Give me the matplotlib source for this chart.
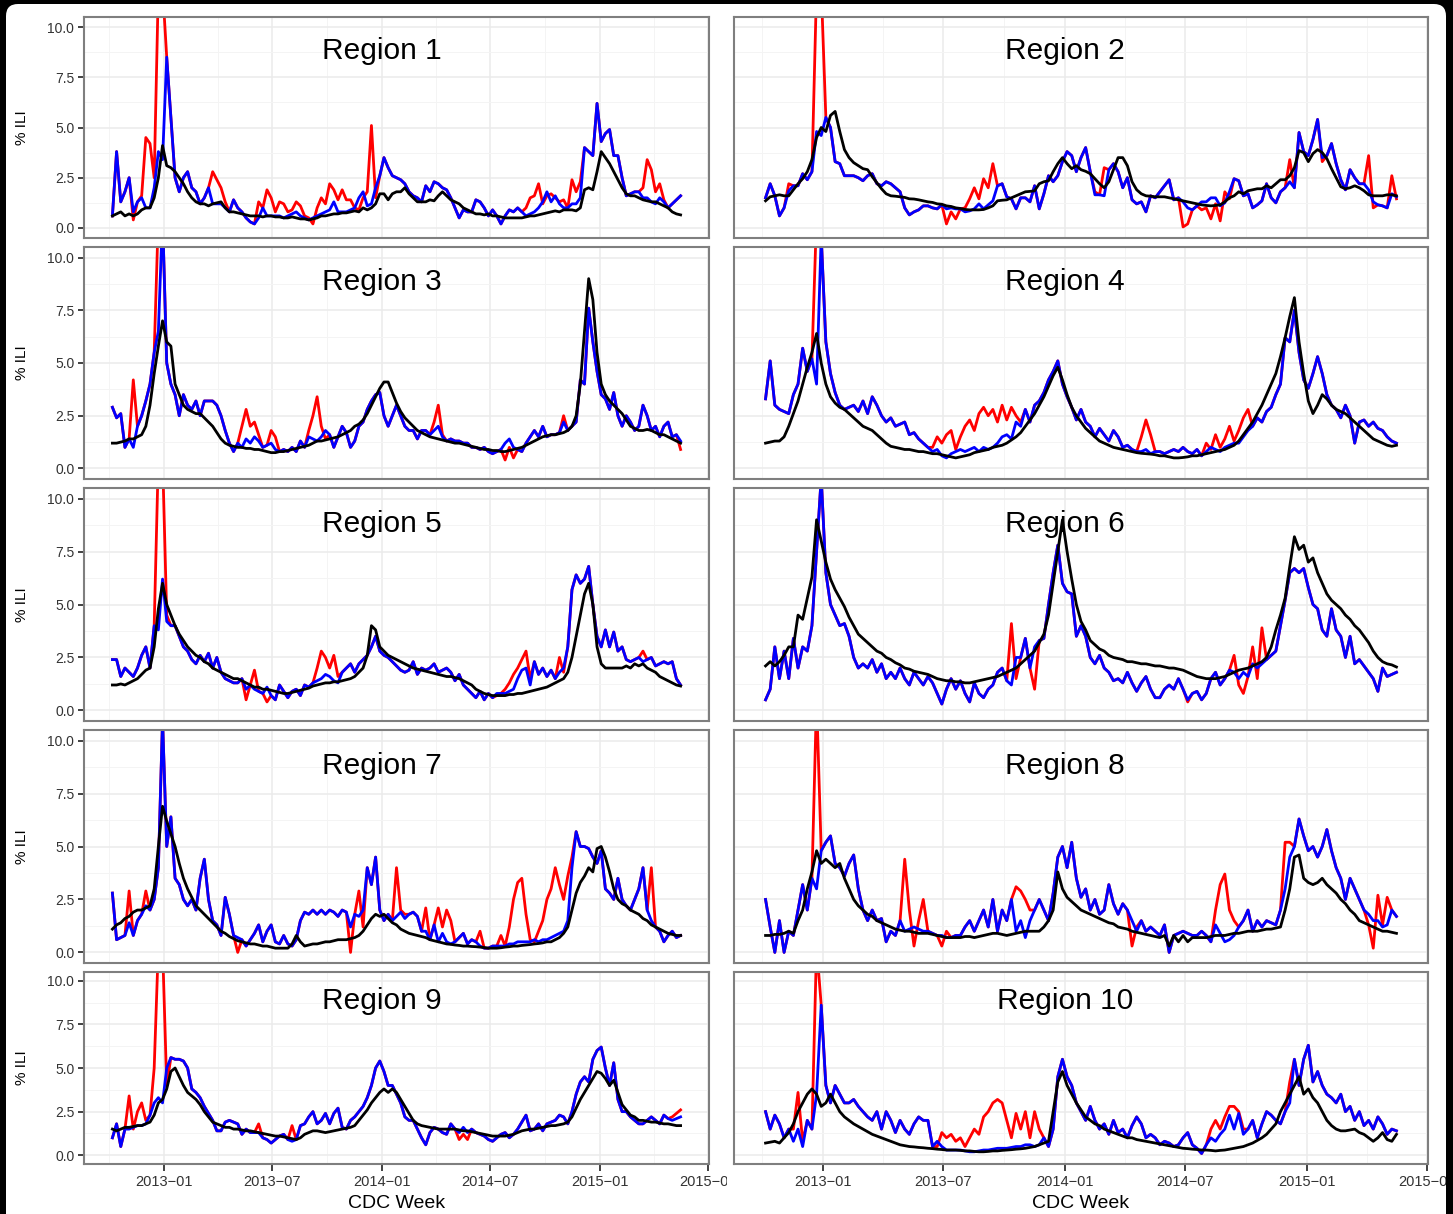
import numpy as np
import pandas as pd
import matplotlib
matplotlib.use("Agg")
import matplotlib.pyplot as plt
import matplotlib.dates as mdates
from matplotlib.patches import Rectangle, FancyBboxPatch

plt.rcParams['font.family'] = ['Liberation Sans', 'DejaVu Sans']

# CDC weeks, 2012 wk40 -> 2015 wk19
weeks = pd.date_range('2012-10-06', periods=137, freq='7D')

# red line follows blue except at these weeks (index: value)
# ---------------- Region 1
blue1 = [0.6, 3.8, 1.3, 1.8, 2.5, 0.8, 1.3, 1.5, 1.0, 1.0,
         2.0, 3.8, 3.4, 8.5, 5.5, 2.5, 1.8, 2.5, 2.8, 2.0,
         1.8, 1.2, 1.5, 2.0, 1.2, 1.2, 1.2, 1.0, 0.8, 1.4,
         1.0, 0.8, 0.5, 0.3, 0.2, 0.5, 1.0, 0.6, 0.6, 0.6,
         0.6, 0.5, 0.6, 0.7, 0.8, 0.6, 0.5, 0.4, 0.5, 0.6,
         0.7, 0.8, 0.9, 1.3, 0.8, 0.8, 0.8, 0.9, 1.0, 1.5,
         1.8, 1.1, 1.2, 2.0, 2.6, 3.5, 3.0, 2.6, 2.5, 2.4,
         2.2, 1.8, 1.6, 1.5, 1.3, 2.1, 1.8, 2.3, 2.2, 2.0,
         1.9, 1.5, 1.0, 0.5, 0.9, 0.8, 0.8, 1.4, 1.3, 1.0,
         0.6, 0.9, 0.6, 0.2, 0.6, 0.9, 0.8, 1.0, 0.8, 0.6,
         0.7, 0.8, 1.0, 1.3, 1.8, 1.3, 1.6, 1.2, 1.0, 1.0,
         1.2, 1.2, 1.5, 4.0, 3.8, 3.6, 6.2, 4.3, 4.7, 4.9,
         3.6, 3.6, 2.5, 1.6, 1.7, 1.8, 1.8, 1.5, 1.5, 1.3,
         1.2, 1.5, 1.3, 1.0, 1.2, 1.4, 1.6]
red1_diff = {5: 0.4, 7: 1.6, 8: 4.5, 9: 4.2, 10: 2.5, 11: 12, 12: 12,
             23: 2.0, 24: 2.8, 25: 2.4, 26: 2.0, 27: 1.3, 35: 1.3, 36: 1.0,
             37: 1.9, 38: 1.5, 39: 0.8, 40: 1.3, 41: 1.2, 42: 0.8, 43: 0.9,
             44: 1.3, 45: 1.1, 46: 0.6, 47: 0.5, 48: 0.2, 49: 1.0, 50: 1.5,
             51: 1.2, 52: 2.2, 53: 1.9, 54: 1.4, 55: 1.9, 56: 1.4, 57: 1.4,
             58: 1.0, 59: 0.9, 60: 1.5, 61: 1.8, 62: 5.1, 63: 1.5, 99: 1.0,
             100: 1.5, 101: 1.6, 102: 2.2, 103: 1.2, 104: 1.6, 105: 1.7,
             106: 1.5, 107: 1.3, 108: 1.4, 109: 1.0, 110: 2.4, 111: 1.8,
             112: 2.3, 127: 2.0, 128: 3.4, 129: 2.9, 130: 1.8, 131: 2.2, 132: 1.4}
black1 = [0.6, 0.7, 0.8, 0.6, 0.7, 0.6, 0.7, 0.9, 1.0, 1.0,
          1.5, 2.5, 4.1, 3.1, 3.0, 2.8, 2.5, 2.2, 1.8, 1.5,
          1.3, 1.2, 1.2, 1.1, 1.2, 1.25, 1.3, 1.0, 0.8, 0.8,
          0.75, 0.7, 0.65, 0.6, 0.6, 0.6, 0.55, 0.6, 0.6, 0.55,
          0.55, 0.5, 0.5, 0.55, 0.5, 0.45, 0.45, 0.4, 0.45, 0.5,
          0.6, 0.6, 0.65, 0.7, 0.7, 0.75, 0.75, 0.8, 0.85, 0.8,
          1.0, 0.9, 1.0, 1.2, 1.7, 1.7, 1.4, 1.7, 1.8, 1.8,
          2.0, 1.7, 1.5, 1.3, 1.3, 1.3, 1.4, 1.35, 1.6, 1.8,
          1.6, 1.4, 1.3, 1.2, 1.0, 0.9, 0.8, 0.7, 0.7, 0.65,
          0.7, 0.6, 0.6, 0.55, 0.5, 0.5, 0.5, 0.5, 0.5, 0.55,
          0.6, 0.6, 0.65, 0.7, 0.75, 0.8, 0.85, 0.8, 0.9, 0.9,
          0.9, 0.85, 1.0, 1.9, 2.0, 1.9, 2.8, 3.8, 3.5, 3.2,
          2.8, 2.4, 2.0, 1.7, 1.6, 1.6, 1.5, 1.4, 1.35, 1.3,
          1.3, 1.2, 1.1, 1.0, 0.8, 0.7, 0.65]

# ---------------- Region 2
blue2 = [1.5, 2.2, 1.6, 0.6, 1.0, 1.85, 2.1, 2.1, 2.7, 2.4,
         2.8, 4.8, 4.6, 5.5, 5.0, 3.3, 3.2, 2.6, 2.6, 2.6,
         2.5, 2.35, 2.6, 2.7, 2.2, 2.1, 2.3, 2.2, 2.0, 1.8,
         1.0, 0.65, 0.8, 0.9, 1.1, 1.1, 1.0, 0.95, 1.15, 0.95,
         1.0, 0.95, 0.95, 0.8, 0.85, 0.95, 1.2, 0.95, 1.15, 1.35,
         2.1, 2.2, 1.55, 1.45, 0.95, 1.5, 1.5, 1.3, 2.1, 0.95,
         1.7, 2.6, 2.3, 2.6, 3.3, 3.8, 3.6, 2.8, 3.5, 4.0,
         2.8, 1.65, 1.65, 1.6, 2.9, 3.2, 2.8, 2.0, 2.5, 1.4,
         1.2, 1.3, 0.8, 1.6, 1.5, 1.8, 2.1, 2.4, 1.4, 1.5,
         1.3, 1.0, 0.9, 1.1, 1.3, 1.3, 1.5, 1.5, 1.1, 1.25,
         1.8, 2.45, 2.35, 1.6, 1.7, 1.0, 1.15, 1.35, 2.2, 1.5,
         1.25, 1.8, 2.0, 2.3, 2.0, 4.75, 3.8, 3.6, 4.4, 5.4,
         3.5, 3.6, 4.2, 3.2, 2.4, 1.9, 2.9, 2.5, 2.2, 2.2,
         1.9, 1.3, 1.15, 1.1, 1.0, 1.7, 1.55]
red2_diff = {5: 2.2, 11: 12, 12: 12, 39: 0.2, 40: 0.8, 41: 0.45, 42: 0.95,
             43: 1.0, 44: 1.45, 45: 2.0, 46: 1.45, 47: 2.45, 48: 2.0, 49: 3.2,
             50: 2.1, 71: 1.8, 73: 3.0, 90: 0.05, 91: 0.2, 94: 0.9, 95: 1.0,
             96: 0.45, 97: 1.2, 98: 0.35, 99: 1.8, 100: 1.45, 113: 3.4,
             120: 3.3, 130: 3.6, 131: 1.0, 135: 2.6, 136: 1.45}
black2 = [1.35, 1.55, 1.6, 1.65, 1.6, 1.6, 1.9, 2.2, 2.45, 2.8,
          3.4, 4.5, 5.0, 4.8, 5.6, 5.8, 4.8, 3.9, 3.5, 3.25,
          3.1, 2.95, 2.9, 2.55, 2.25, 1.95, 1.7, 1.6, 1.58, 1.55,
          1.52, 1.45, 1.44, 1.4, 1.35, 1.3, 1.27, 1.2, 1.18, 1.1,
          1.07, 1.0, 0.97, 0.92, 0.9, 0.9, 0.9, 0.92, 1.0, 1.1,
          1.35, 1.38, 1.4, 1.5, 1.6, 1.7, 1.8, 1.82, 1.85, 2.2,
          2.3, 2.35, 2.8, 3.2, 3.5, 3.2, 2.95, 3.1, 2.9, 2.82,
          2.7, 2.45, 2.2, 2.0, 2.3, 2.9, 3.5, 3.5, 3.1, 2.3,
          1.9, 1.7, 1.6, 1.58, 1.55, 1.55, 1.55, 1.5, 1.45, 1.4,
          1.35, 1.3, 1.25, 1.2, 1.15, 1.12, 1.1, 1.12, 1.15, 1.3,
          1.5, 1.6, 1.8, 1.7, 1.85, 1.9, 1.95, 1.95, 2.1, 2.0,
          2.2, 2.4, 2.4, 2.6, 3.0, 3.85, 3.75, 3.3, 3.7, 3.9,
          3.75, 3.45, 2.95, 2.5, 2.05, 1.95, 2.0, 2.1, 2.0, 1.85,
          1.65, 1.6, 1.6, 1.6, 1.65, 1.65, 1.6]

# ---------------- Region 3
blue3 = [2.9, 2.4, 2.6, 1.0, 1.4, 1.0, 2.0, 2.5, 3.2, 4.0,
         5.5, 6.5, 12, 5.0, 4.0, 3.5, 2.5, 3.5, 3.0, 2.8,
         3.2, 2.5, 3.2, 3.2, 3.2, 3.0, 2.5, 1.8, 1.2, 0.8,
         1.2, 1.0, 1.4, 1.2, 1.5, 1.3, 1.0, 1.1, 1.2, 0.9,
         0.8, 0.9, 0.8, 1.0, 0.8, 1.3, 1.0, 1.5, 1.4, 1.3,
         1.5, 1.8, 1.6, 1.0, 1.5, 2.0, 1.7, 1.0, 1.3, 2.0,
         2.2, 2.8, 3.2, 3.5, 3.6, 2.5, 2.0, 2.5, 3.0, 2.5,
         2.0, 1.8, 1.8, 1.4, 1.8, 1.8, 1.6, 1.8, 2.0, 1.5,
         1.3, 1.4, 1.3, 1.3, 1.2, 1.2, 1.0, 1.0, 0.9, 1.0,
         0.8, 0.7, 0.8, 0.9, 1.2, 1.4, 1.0, 0.9, 0.8, 1.2,
         1.5, 1.8, 1.5, 2.0, 1.5, 1.6, 1.6, 1.7, 2.2, 1.8,
         2.0, 2.2, 4.2, 4.0, 7.6, 6.0, 4.6, 3.5, 3.3, 2.8,
         3.6, 2.5, 2.0, 2.5, 2.2, 1.8, 2.0, 3.0, 2.5, 1.8,
         2.0, 1.5, 2.0, 2.2, 1.5, 1.6, 1.3]
red3_diff = {5: 4.2, 11: 12, 31: 2.0, 32: 2.8, 33: 2.0, 34: 2.2, 35: 1.6,
             38: 1.8, 39: 1.5, 47: 1.8, 48: 2.5, 49: 3.4, 50: 2.0, 51: 1.4,
             77: 2.2, 78: 3.0, 79: 1.6, 94: 0.4, 95: 1.0, 96: 0.5, 108: 2.5,
             136: 0.9}
black3 = [1.2, 1.2, 1.25, 1.3, 1.4, 1.4, 1.5, 1.6, 2.0, 3.0,
          4.5, 5.8, 7.0, 6.0, 5.8, 4.0, 3.5, 3.0, 2.8, 2.7,
          2.6, 2.6, 2.4, 2.2, 2.0, 1.7, 1.4, 1.2, 1.1, 1.05,
          1.0, 1.0, 0.95, 0.95, 0.9, 0.9, 0.85, 0.8, 0.75, 0.75,
          0.8, 0.8, 0.85, 0.9, 0.95, 1.0, 1.05, 1.1, 1.2, 1.3,
          1.3, 1.35, 1.4, 1.45, 1.5, 1.6, 1.7, 1.8, 2.0, 2.1,
          2.3, 2.6, 3.0, 3.4, 3.8, 4.1, 4.1, 3.6, 3.1, 2.7,
          2.4, 2.2, 2.0, 1.8, 1.7, 1.6, 1.5, 1.45, 1.4, 1.35,
          1.3, 1.25, 1.2, 1.2, 1.15, 1.1, 1.05, 1.0, 0.95, 0.9,
          0.9, 0.85, 0.85, 0.8, 0.8, 0.85, 0.9, 0.95, 1.0, 1.1,
          1.2, 1.3, 1.4, 1.5, 1.55, 1.6, 1.6, 1.65, 1.7, 1.8,
          2.0, 2.5, 4.0, 6.5, 9.0, 8.0, 5.5, 4.0, 3.5, 3.2,
          3.0, 2.8, 2.6, 2.3, 2.0, 1.9, 1.8, 1.8, 1.85, 1.8,
          1.7, 1.6, 1.6, 1.5, 1.4, 1.3, 1.2]

# ---------------- Region 4
blue4 = [3.3, 5.1, 3.0, 2.8, 2.7, 2.6, 3.5, 4.0, 5.7, 4.6,
         5.2, 4.0, 11.0, 6.0, 4.5, 3.6, 3.0, 2.8, 2.9, 3.0,
         2.7, 3.2, 2.6, 3.4, 3.0, 2.5, 2.2, 2.4, 2.0, 2.1,
         2.2, 1.6, 1.7, 1.4, 1.2, 1.0, 0.8, 0.9, 0.6, 0.5,
         0.7, 0.8, 0.9, 0.8, 0.9, 1.0, 0.8, 1.0, 0.9, 1.0,
         1.2, 1.5, 1.6, 1.4, 2.2, 2.0, 2.8, 2.2, 3.0, 3.2,
         3.6, 4.2, 4.6, 5.1, 4.0, 3.4, 2.9, 2.3, 2.8, 2.2,
         2.0, 1.5, 1.9, 1.6, 1.3, 1.8, 1.5, 1.0, 1.1, 0.9,
         0.8, 0.8, 0.9, 0.7, 0.8, 0.8, 0.7, 0.8, 0.9, 0.8,
         1.0, 0.8, 0.7, 0.9, 0.6, 0.8, 1.0, 0.9, 0.8, 1.0,
         1.1, 1.2, 1.2, 1.5, 1.8, 2.0, 2.4, 2.2, 2.7, 2.9,
         3.5, 4.0, 6.2, 6.0, 7.5, 5.5, 4.2, 3.8, 4.5, 5.3,
         4.5, 3.5, 3.0, 2.8, 2.4, 3.0, 2.5, 1.2, 2.2, 2.3,
         2.0, 2.2, 1.9, 1.8, 1.5, 1.3, 1.2]
red4_diff = {11: 12, 36: 1.0, 37: 1.5, 38: 1.2, 39: 1.6, 40: 1.8, 41: 0.9,
             42: 1.5, 43: 2.0, 44: 2.3, 45: 1.8, 46: 2.6, 47: 2.9, 48: 2.5,
             49: 2.8, 50: 2.2, 51: 3.0, 52: 2.3, 53: 2.9, 54: 2.5, 55: 2.2,
             81: 1.5, 82: 2.3, 83: 1.6, 95: 1.2, 96: 0.9, 97: 1.6, 98: 1.0,
             99: 1.4, 100: 2.0, 101: 1.3, 102: 1.8, 103: 2.4, 104: 2.8, 105: 2.0}
black4 = [1.2, 1.25, 1.3, 1.3, 1.5, 2.0, 2.6, 3.2, 4.0, 4.8,
          5.5, 6.4, 5.0, 4.0, 3.4, 3.1, 2.9, 2.8, 2.6, 2.4,
          2.2, 2.0, 1.9, 1.8, 1.6, 1.4, 1.2, 1.05, 1.0, 0.95,
          0.9, 0.9, 0.85, 0.8, 0.8, 0.75, 0.7, 0.7, 0.65, 0.6,
          0.55, 0.5, 0.55, 0.6, 0.65, 0.75, 0.8, 0.85, 0.9, 1.0,
          1.05, 1.1, 1.2, 1.35, 1.5, 1.7, 2.0, 2.3, 2.6, 3.0,
          3.4, 3.9, 4.4, 4.8, 4.2, 3.5, 2.9, 2.5, 2.2, 1.9,
          1.7, 1.5, 1.3, 1.2, 1.1, 1.0, 0.95, 0.9, 0.85, 0.8,
          0.75, 0.72, 0.7, 0.68, 0.65, 0.6, 0.6, 0.55, 0.5, 0.5,
          0.52, 0.55, 0.6, 0.6, 0.65, 0.7, 0.75, 0.8, 0.85, 0.9,
          1.0, 1.1, 1.3, 1.6, 1.9, 2.2, 2.6, 3.0, 3.5, 4.0,
          4.5, 5.3, 6.2, 7.2, 8.1, 6.0, 4.5, 3.2, 2.6, 3.0,
          3.5, 3.3, 3.0, 2.8, 2.7, 2.6, 2.4, 2.2, 2.0, 1.8,
          1.6, 1.4, 1.3, 1.2, 1.1, 1.05, 1.1]

# ---------------- Region 5
blue5 = [2.4, 2.4, 1.6, 2.0, 1.8, 1.6, 2.0, 2.6, 3.0, 2.0,
         4.0, 3.8, 6.2, 4.2, 4.0, 4.0, 3.5, 3.0, 2.8, 2.4,
         2.2, 2.6, 2.3, 2.7, 2.0, 2.5, 1.8, 1.5, 1.4, 1.3,
         1.3, 1.5, 1.0, 1.2, 1.0, 0.9, 0.8, 1.1, 0.7, 0.5,
         1.2, 0.9, 0.6, 0.9, 1.0, 0.7, 1.2, 1.1, 1.3, 1.4,
         1.5, 1.7, 1.6, 1.4, 1.3, 1.8, 2.0, 2.2, 1.8, 2.2,
         2.4, 2.6, 3.0, 3.5, 2.8, 2.6, 2.5, 2.3, 2.1, 1.9,
         1.8, 1.9, 2.3, 1.7, 2.0, 1.9, 2.0, 2.2, 1.8, 1.9,
         2.0, 1.8, 1.4, 1.7, 1.2, 1.0, 0.8, 0.6, 0.9, 0.5,
         0.8, 0.6, 0.8, 0.8, 0.8, 0.9, 1.0, 1.5, 1.9, 2.0,
         1.2, 2.3, 1.7, 2.0, 1.6, 1.9, 1.5, 1.8, 2.0, 3.0,
         5.7, 6.4, 6.0, 6.2, 6.8, 5.0, 3.5, 3.0, 3.8, 3.0,
         3.7, 2.8, 3.0, 2.4, 2.3, 2.4, 2.5, 2.3, 2.4, 2.5,
         2.1, 2.2, 2.3, 2.2, 2.3, 1.5, 1.2]
red5_diff = {11: 12, 12: 12, 13: 4.5, 32: 0.5, 34: 1.9, 37: 0.4, 49: 2.0,
             50: 2.8, 51: 2.5, 52: 2.0, 53: 2.6, 54: 1.6, 92: 0.7, 93: 0.8,
             94: 1.0, 95: 1.3, 96: 1.7, 97: 2.0, 98: 2.4, 99: 2.8, 100: 1.5,
             107: 2.5, 108: 1.8, 127: 2.8}
black5 = [1.2, 1.2, 1.25, 1.2, 1.3, 1.4, 1.5, 1.7, 1.9, 2.0,
          3.0, 4.8, 6.0, 5.0, 4.5, 4.0, 3.6, 3.3, 3.0, 2.8,
          2.6, 2.5, 2.3, 2.2, 2.0, 1.9, 1.8, 1.7, 1.6, 1.5,
          1.5, 1.4, 1.3, 1.2, 1.1, 1.1, 1.0, 1.0, 0.95, 0.9,
          0.85, 0.8, 0.8, 0.85, 0.9, 0.95, 1.0, 1.05, 1.15, 1.2,
          1.25, 1.3, 1.3, 1.35, 1.35, 1.4, 1.45, 1.5, 1.6, 1.8,
          2.0, 2.6, 4.0, 3.8, 3.0, 2.8, 2.6, 2.5, 2.4, 2.3,
          2.2, 2.1, 2.0, 1.95, 1.9, 1.85, 1.8, 1.75, 1.7, 1.65,
          1.6, 1.6, 1.55, 1.5, 1.4, 1.3, 1.2, 1.0, 0.9, 0.8,
          0.75, 0.7, 0.7, 0.7, 0.7, 0.75, 0.75, 0.8, 0.8, 0.85,
          0.9, 0.95, 1.0, 1.05, 1.1, 1.2, 1.3, 1.4, 1.5, 1.8,
          2.5, 3.5, 4.5, 5.5, 6.0, 5.0, 3.0, 2.2, 2.0, 2.0,
          2.0, 2.0, 2.0, 2.1, 2.0, 2.2, 2.1, 2.2, 2.0, 1.9,
          1.8, 1.6, 1.5, 1.4, 1.3, 1.2, 1.15]

# ---------------- Region 6
blue6 = [0.5, 1.0, 3.0, 1.5, 2.8, 1.5, 3.4, 2.0, 3.0, 2.8,
         4.0, 7.5, 11.0, 6.5, 5.0, 4.5, 4.0, 4.1, 3.5, 2.5,
         2.0, 2.2, 2.0, 2.4, 1.8, 2.2, 1.5, 1.8, 1.5, 2.0,
         1.5, 1.2, 1.8, 1.5, 1.2, 1.6, 1.3, 0.8, 0.3, 1.0,
         1.5, 1.0, 1.4, 0.8, 0.4, 1.3, 0.8, 0.6, 1.0, 1.2,
         1.8, 2.0, 1.4, 1.2, 2.5, 2.5, 3.4, 2.0, 3.0, 3.3,
         3.4, 5.0, 6.5, 7.8, 6.0, 5.6, 5.5, 3.5, 4.0, 3.5,
         2.5, 2.2, 2.6, 2.0, 1.8, 1.4, 1.5, 1.3, 1.8, 1.3,
         0.9, 1.3, 1.6, 1.0, 0.6, 0.6, 1.0, 1.2, 1.0, 1.5,
         1.0, 0.5, 0.8, 0.9, 0.5, 0.8, 1.5, 1.8, 1.2, 1.5,
         1.9, 1.8, 1.5, 1.8, 1.6, 2.2, 2.0, 2.2, 2.4, 2.6,
         2.8, 4.0, 5.2, 6.5, 6.7, 6.5, 6.7, 5.8, 5.0, 4.8,
         3.8, 3.5, 4.8, 3.8, 3.5, 2.5, 3.5, 2.2, 2.4, 2.1,
         1.8, 1.5, 0.9, 2.0, 1.6, 1.7, 1.8]
red6_diff = {52: 1.4, 53: 4.1, 54: 1.5, 58: 1.0, 59: 3.3, 91: 0.4, 101: 2.6,
             102: 1.2, 103: 0.8, 105: 3.0, 106: 1.5, 107: 3.9, 108: 2.4}
black6 = [2.1, 2.3, 2.1, 2.3, 2.6, 3.0, 3.0, 4.5, 4.3, 5.3,
          6.3, 9.0, 8.0, 7.0, 6.2, 5.7, 5.3, 4.9, 4.4, 4.0,
          3.6, 3.4, 3.2, 3.0, 2.8, 2.7, 2.5, 2.4, 2.25, 2.15,
          2.0, 1.95, 1.85, 1.8, 1.75, 1.7, 1.6, 1.5, 1.45, 1.4,
          1.4, 1.35, 1.35, 1.3, 1.3, 1.35, 1.4, 1.45, 1.5, 1.55,
          1.6, 1.7, 1.8, 1.9, 2.0, 2.2, 2.4, 2.6, 2.8, 3.2,
          3.6, 4.5, 6.0, 7.5, 9.0, 7.5, 6.2, 5.0, 4.2, 3.8,
          3.3, 3.1, 2.9, 2.8, 2.6, 2.5, 2.45, 2.4, 2.3, 2.3,
          2.25, 2.2, 2.2, 2.15, 2.1, 2.1, 2.05, 2.0, 2.0, 1.95,
          1.9, 1.8, 1.7, 1.6, 1.55, 1.5, 1.5, 1.5, 1.55, 1.6,
          1.7, 1.8, 1.9, 1.95, 2.0, 2.1, 2.2, 2.3, 2.5, 3.0,
          3.8, 4.5, 5.3, 6.8, 8.2, 7.6, 7.8, 7.0, 7.2, 6.5,
          6.0, 5.5, 5.2, 5.0, 4.8, 4.5, 4.3, 4.0, 3.8, 3.5,
          3.2, 2.8, 2.5, 2.3, 2.2, 2.15, 2.05]

# ---------------- Region 7
blue7 = [2.8, 0.6, 0.7, 0.8, 1.4, 0.8, 1.5, 1.8, 2.2, 2.0,
         2.5, 4.0, 11.0, 5.0, 6.4, 3.5, 3.2, 2.5, 2.2, 2.5,
         2.0, 3.5, 4.4, 2.5, 1.5, 1.3, 0.8, 2.6, 1.8, 0.8,
         0.7, 0.6, 0.3, 0.6, 0.9, 1.3, 0.5, 1.0, 1.3, 0.5,
         0.4, 0.8, 0.4, 0.3, 0.6, 1.5, 1.9, 1.8, 2.0, 1.8,
         2.0, 1.8, 2.0, 1.9, 1.7, 2.0, 1.9, 1.2, 1.8, 1.7,
         2.0, 4.0, 3.2, 4.5, 2.0, 1.5, 1.8, 1.5, 1.7, 1.9,
         1.6, 1.8, 1.9, 1.7, 1.0, 1.0, 0.6, 1.3, 0.5, 0.9,
         0.5, 0.4, 0.5, 0.7, 0.9, 0.4, 0.6, 0.5, 0.3, 0.2,
         0.2, 0.3, 0.3, 0.3, 0.3, 0.4, 0.4, 0.5, 0.5, 0.5,
         0.5, 0.6, 0.5, 0.6, 0.6, 0.7, 0.8, 0.9, 1.0, 1.5,
         4.0, 5.7, 5.0, 5.0, 4.9, 4.5, 4.2, 4.8, 3.0, 2.8,
         2.5, 3.5, 2.5, 2.2, 2.0, 2.5, 3.0, 4.0, 2.0, 1.5,
         1.2, 1.0, 0.5, 0.8, 1.0, 0.7, 0.8]
red7_diff = {4: 2.9, 8: 2.9, 30: 0.0, 57: 0.0, 59: 2.9, 60: 1.2, 68: 4.0,
             69: 2.0, 70: 1.8, 75: 2.1, 76: 0.6, 78: 2.1, 79: 1.2, 80: 2.0,
             81: 1.5, 88: 1.0, 93: 0.8, 95: 1.2, 96: 2.5, 97: 3.3, 98: 3.5,
             99: 1.8, 100: 0.6, 101: 0.5, 102: 1.0, 103: 1.5, 104: 2.5,
             105: 3.0, 106: 4.0, 107: 3.2, 108: 2.5, 109: 3.6, 110: 4.5, 129: 4.0}
black7 = [1.1, 1.3, 1.4, 1.6, 1.7, 1.9, 2.0, 2.0, 2.1, 2.2,
          3.0, 5.0, 6.9, 6.2, 5.6, 5.0, 4.2, 3.5, 3.0, 2.6,
          2.2, 2.0, 1.8, 1.6, 1.4, 1.2, 1.0, 0.9, 0.75, 0.65,
          0.55, 0.5, 0.45, 0.4, 0.4, 0.35, 0.3, 0.3, 0.25, 0.2,
          0.2, 0.2, 0.2, 0.4, 0.8, 0.5, 0.3, 0.35, 0.4, 0.4,
          0.45, 0.5, 0.5, 0.55, 0.6, 0.6, 0.6, 0.65, 0.7, 0.8,
          1.0, 1.3, 1.6, 1.8, 1.7, 1.8, 1.6, 1.4, 1.3, 1.1,
          1.0, 0.9, 0.85, 0.8, 0.75, 0.7, 0.6, 0.55, 0.5, 0.45,
          0.4, 0.38, 0.35, 0.33, 0.3, 0.3, 0.28, 0.27, 0.25, 0.23,
          0.2, 0.2, 0.2, 0.22, 0.25, 0.27, 0.3, 0.3, 0.33, 0.35,
          0.37, 0.4, 0.42, 0.45, 0.5, 0.5, 0.6, 0.7, 0.9, 1.2,
          2.0, 2.8, 3.3, 3.6, 4.0, 3.8, 4.9, 5.0, 4.5, 3.8,
          3.0, 2.5, 2.3, 2.2, 2.0, 1.9, 1.8, 1.6, 1.5, 1.3,
          1.2, 1.1, 1.0, 0.9, 0.85, 0.8, 0.8]

# ---------------- Region 8
blue8 = [2.5, 1.2, 0.0, 1.5, 0.0, 1.0, 0.8, 2.0, 3.2, 2.0,
         3.5, 3.0, 4.8, 5.2, 5.5, 4.2, 4.0, 3.6, 4.2, 4.6,
         3.0, 2.0, 1.5, 2.0, 1.5, 1.6, 0.5, 1.0, 0.8, 1.5,
         1.0, 1.1, 1.2, 1.1, 1.0, 1.0, 0.9, 0.8, 0.8, 0.7,
         0.7, 0.8, 0.8, 1.2, 1.5, 1.0, 1.5, 2.0, 1.2, 2.5,
         1.0, 2.0, 1.5, 2.5, 1.0, 1.5, 0.7, 1.5, 2.0, 2.5,
         2.0, 1.5, 2.8, 4.5, 5.0, 4.0, 5.2, 3.5, 2.6, 3.0,
         2.0, 2.5, 1.8, 2.0, 3.2, 2.3, 1.8, 2.3, 2.0, 1.5,
         1.0, 1.5, 1.0, 1.2, 1.0, 0.8, 1.3, 0.0, 0.8, 0.9,
         1.0, 0.9, 0.8, 0.8, 1.0, 0.8, 0.5, 1.3, 0.9, 0.5,
         0.6, 0.8, 1.2, 1.5, 2.0, 1.0, 1.5, 1.2, 1.5, 1.4,
         1.3, 2.0, 3.0, 4.5, 5.0, 6.3, 5.5, 4.8, 5.0, 4.5,
         5.0, 5.8, 4.8, 4.0, 3.5, 2.5, 3.5, 3.0, 2.5, 2.0,
         1.8, 1.5, 1.5, 1.2, 1.3, 2.0, 1.7]
red8_diff = {11: 12, 29: 1.5, 30: 4.4, 31: 2.0, 32: 0.3, 33: 1.5, 34: 2.5,
             35: 1.0, 38: 0.3, 39: 1.0, 53: 2.5, 54: 3.1, 55: 2.9, 56: 2.5,
             57: 2.0, 79: 0.3, 80: 1.2, 97: 2.0, 98: 3.2, 99: 3.7, 100: 2.0,
             101: 1.5, 112: 5.2, 113: 5.2, 114: 5.0, 130: 1.3, 131: 0.2,
             132: 2.7, 133: 1.3, 134: 2.6, 135: 2.0}
black8 = [0.8, 0.8, 0.85, 0.85, 0.9, 1.0, 0.9, 1.5, 2.0, 3.0,
          3.8, 4.8, 4.2, 4.4, 4.2, 4.0, 4.2, 3.5, 3.0, 2.5,
          2.2, 2.0, 1.8, 1.7, 1.5, 1.4, 1.3, 1.2, 1.1, 1.05,
          1.0, 1.0, 0.95, 0.9, 0.9, 0.9, 0.85, 0.8, 0.75, 0.7,
          0.7, 0.7, 0.7, 0.75, 0.75, 0.7, 0.75, 0.8, 0.85, 0.9,
          0.9, 0.85, 0.8, 0.85, 0.9, 0.95, 1.0, 1.0, 1.0, 1.0,
          1.2, 1.5, 2.0, 3.8, 3.0, 2.6, 2.4, 2.2, 2.0, 1.9,
          1.8, 1.7, 1.6, 1.5, 1.4, 1.35, 1.2, 1.15, 1.1, 1.0,
          0.95, 0.9, 0.85, 0.8, 0.75, 0.7, 0.8, 0.3, 0.8, 0.5,
          0.8, 0.5, 0.7, 0.7, 0.7, 0.7, 0.75, 0.8, 0.8, 0.8,
          0.85, 0.9, 0.9, 0.95, 1.0, 1.0, 1.0, 1.05, 1.1, 1.1,
          1.15, 1.2, 2.0, 3.0, 4.5, 4.6, 3.5, 3.3, 3.2, 3.3,
          3.5, 3.2, 3.0, 2.8, 2.5, 2.3, 2.0, 1.8, 1.5, 1.4,
          1.3, 1.2, 1.1, 1.0, 1.0, 0.95, 0.9]

# ---------------- Region 9
blue9 = [1.0, 1.8, 0.5, 1.5, 1.5, 1.6, 1.7, 1.7, 1.8, 2.3,
         3.0, 3.3, 3.0, 5.0, 5.6, 5.5, 5.5, 5.4, 5.0, 3.8,
         3.6, 3.3, 2.8, 2.4, 2.0, 1.4, 1.4, 1.9, 2.0, 1.9,
         1.8, 1.2, 1.5, 1.3, 1.3, 1.3, 1.0, 0.9, 0.7, 0.9,
         1.1, 1.2, 0.9, 0.8, 0.9, 1.7, 1.8, 2.2, 2.5, 1.8,
         2.0, 2.4, 1.8, 2.4, 2.7, 1.6, 1.5, 2.0, 2.2, 2.5,
         2.8, 3.3, 4.0, 5.0, 5.4, 4.8, 4.0, 4.0, 3.5, 3.0,
         2.2, 2.0, 2.0, 1.5, 1.0, 0.6, 1.3, 1.6, 1.5, 1.3,
         1.2, 1.8, 1.5, 1.3, 1.6, 1.3, 1.5, 1.3, 1.2, 1.1,
         0.9, 0.8, 1.0, 1.2, 1.3, 1.0, 1.2, 1.5, 1.9, 2.3,
         1.4, 1.5, 1.8, 1.4, 1.8, 1.9, 2.0, 2.3, 2.2, 1.8,
         2.5, 3.5, 4.2, 4.5, 4.2, 5.5, 6.0, 6.2, 5.0, 4.0,
         5.3, 3.2, 2.5, 2.5, 2.2, 2.0, 1.8, 1.8, 2.0, 2.2,
         2.0, 1.8, 2.3, 2.1, 2.0, 2.1, 2.2]
red9_diff = {4: 3.4, 5: 1.5, 6: 2.5, 7: 3.0, 8: 2.0, 10: 5.0, 11: 12, 12: 12,
             13: 4.0, 35: 1.8, 43: 1.7, 83: 0.9, 84: 1.2, 85: 0.9, 134: 2.2,
             135: 2.4, 136: 2.6}
black9 = [1.5, 1.4, 1.5, 1.6, 1.6, 1.65, 1.7, 1.7, 1.8, 1.9,
          2.3, 3.0, 3.2, 3.8, 4.8, 5.0, 4.5, 4.0, 3.6, 3.4,
          3.2, 2.9, 2.5, 2.2, 1.9, 1.8, 1.7, 1.6, 1.6, 1.5,
          1.5, 1.45, 1.4, 1.4, 1.35, 1.3, 1.25, 1.2, 1.15, 1.1,
          1.1, 1.05, 1.0, 0.95, 0.9, 1.0, 1.2, 1.3, 1.4, 1.4,
          1.35, 1.3, 1.35, 1.4, 1.45, 1.5, 1.55, 1.6, 1.7, 2.0,
          2.3, 2.6, 3.0, 3.3, 3.6, 3.8, 3.6, 3.8, 3.6, 3.2,
          2.8, 2.4, 2.0, 1.8, 1.7, 1.65, 1.6, 1.55, 1.5, 1.5,
          1.5, 1.5, 1.5, 1.45, 1.4, 1.4, 1.35, 1.3, 1.25, 1.2,
          1.15, 1.1, 1.1, 1.1, 1.1, 1.15, 1.2, 1.3, 1.4, 1.45,
          1.5, 1.5, 1.55, 1.6, 1.65, 1.7, 1.7, 1.75, 1.8, 1.9,
          2.2, 2.7, 3.2, 3.6, 4.0, 4.4, 4.8, 4.7, 4.4, 4.0,
          4.3, 3.6, 2.9, 2.6, 2.3, 2.2, 2.0, 2.0, 1.95, 1.9,
          1.9, 1.85, 1.8, 1.8, 1.75, 1.7, 1.7]

# ---------------- Region 10
blue10 = [2.5, 1.5, 2.3, 1.8, 1.0, 1.5, 0.8, 1.5, 0.5, 2.0,
          1.5, 3.5, 8.6, 4.0, 3.0, 4.0, 3.5, 3.0, 3.0, 3.2,
          2.8, 2.5, 2.2, 2.0, 2.5, 1.5, 2.5, 2.0, 1.3, 2.0,
          1.5, 1.2, 1.8, 2.2, 2.0, 2.0, 0.5, 0.8, 0.5, 0.3,
          0.3, 0.3, 0.3, 0.25, 0.2, 0.2, 0.25, 0.3, 0.3, 0.35,
          0.4, 0.4, 0.4, 0.45, 0.5, 0.5, 0.6, 0.6, 0.5, 0.6,
          1.0, 0.5, 1.5, 4.5, 5.5, 4.5, 4.0, 3.0, 2.5, 2.0,
          2.8, 2.0, 1.5, 1.8, 1.2, 2.0, 1.3, 1.5, 1.0, 1.7,
          2.2, 1.8, 1.0, 1.2, 1.0, 0.6, 0.8, 0.7, 0.5, 0.6,
          1.0, 1.3, 0.6, 0.4, 0.1, 0.6, 1.0, 0.8, 1.2, 1.5,
          2.3, 1.5, 2.4, 1.2, 1.5, 2.0, 1.0, 1.8, 2.5, 2.3,
          2.0, 1.8, 2.5, 3.0, 5.5, 4.0, 5.5, 6.3, 4.2, 4.8,
          4.0, 3.5, 3.3, 3.0, 3.5, 2.5, 2.8, 2.0, 2.5, 1.7,
          2.0, 1.5, 2.2, 1.8, 1.2, 1.5, 1.4]
red10_diff = {6: 1.5, 7: 3.6, 8: 0.8, 11: 12, 37: 0.5, 38: 1.3, 39: 1.0,
              40: 1.2, 41: 0.8, 42: 1.0, 43: 0.5, 44: 1.0, 45: 1.5, 46: 1.2,
              47: 2.2, 48: 2.5, 49: 3.0, 50: 3.2, 51: 3.0, 52: 2.0, 53: 1.0,
              54: 2.4, 55: 1.5, 56: 2.5, 57: 1.0, 58: 2.5, 59: 1.5, 96: 1.5,
              97: 2.0, 98: 1.5, 99: 2.2, 100: 2.8, 101: 2.8, 102: 2.5,
              103: 1.5, 113: 4.2}
black10 = [0.7, 0.75, 0.8, 0.7, 1.0, 1.3, 1.8, 2.5, 3.0, 3.5,
           3.8, 3.5, 2.8, 3.0, 3.5, 3.0, 2.5, 2.2, 2.0, 1.8,
           1.65, 1.5, 1.35, 1.2, 1.1, 1.0, 0.9, 0.8, 0.7, 0.6,
           0.55, 0.5, 0.48, 0.45, 0.43, 0.4, 0.38, 0.35, 0.33, 0.3,
           0.3, 0.3, 0.28, 0.25, 0.25, 0.22, 0.2, 0.2, 0.22, 0.25,
           0.25, 0.28, 0.3, 0.32, 0.35, 0.37, 0.4, 0.45, 0.5, 0.6,
           0.7, 0.8, 2.5, 4.2, 4.8, 4.0, 3.5, 3.0, 2.6, 2.2,
           2.0, 1.8, 1.7, 1.5, 1.4, 1.3, 1.2, 1.1, 1.0, 1.0,
           0.9, 0.85, 0.8, 0.75, 0.7, 0.65, 0.6, 0.55, 0.5, 0.45,
           0.4, 0.38, 0.35, 0.33, 0.3, 0.3, 0.28, 0.25, 0.28, 0.3,
           0.35, 0.4, 0.45, 0.5, 0.6, 0.7, 0.85, 1.0, 1.2, 1.5,
           1.8, 2.5, 3.0, 3.5, 4.0, 4.5, 3.5, 3.8, 3.3, 3.0,
           2.5, 2.0, 1.7, 1.5, 1.4, 1.4, 1.45, 1.5, 1.3, 1.2,
           1.0, 0.8, 1.0, 1.3, 0.9, 0.8, 1.2]


def with_red(blue, diff):
    red = list(blue)
    for k, v in diff.items():
        red[k] = v
    return red


regions = [
    ('Region 1', blue1, with_red(blue1, red1_diff), black1),
    ('Region 2', blue2, with_red(blue2, red2_diff), black2),
    ('Region 3', blue3, with_red(blue3, red3_diff), black3),
    ('Region 4', blue4, with_red(blue4, red4_diff), black4),
    ('Region 5', blue5, with_red(blue5, red5_diff), black5),
    ('Region 6', blue6, with_red(blue6, red6_diff), black6),
    ('Region 7', blue7, with_red(blue7, red7_diff), black7),
    ('Region 8', blue8, with_red(blue8, red8_diff), black8),
    ('Region 9', blue9, with_red(blue9, red9_diff), black9),
    ('Region 10', blue10, with_red(blue10, red10_diff), black10),
]

major_dates = pd.to_datetime(['2013-01-01', '2013-07-01', '2014-01-01',
                              '2014-07-01', '2015-01-01', '2015-07-01'])
minor_dates = pd.to_datetime(['2012-10-01', '2013-04-01', '2013-10-01',
                              '2014-04-01', '2014-10-01', '2015-04-01'])
span = weeks[-1] - weeks[0]
xlim = (weeks[0] - span * 0.05, weeks[-1] + span * 0.05)

# panel boxes in pixels (left,right) and (top,bottom)
W, H = 1453, 1214
cols = [(84, 709), (734, 1428)]
rows = [(17, 238), (247, 479), (488, 721), (730, 963), (972, 1164)]

fig = plt.figure(figsize=(W / 100, H / 100), dpi=100)
fig.patch.set_facecolor('black')
fig.add_artist(FancyBboxPatch((0.06, -0.3), 14.40, 12.40,
                              boxstyle='round,pad=0,rounding_size=0.12',
                              transform=fig.dpi_scale_trans,
                              facecolor='white', edgecolor='none', zorder=-10))

for i, (name, blue, red, black) in enumerate(regions):
    r, c = divmod(i, 2)
    x0, x1 = cols[c]
    y0, y1 = rows[r]
    ax = fig.add_axes([x0 / W, 1 - y1 / H, (x1 - x0) / W, (y1 - y0) / H])
    ax.plot(weeks[:len(red)], red, color='#FF0000', lw=2.0, solid_joinstyle='round')
    ax.plot(weeks[:len(blue)], blue, color='#0000FF', lw=2.0, solid_joinstyle='round')
    ax.plot(weeks[:len(black)], black, color='black', lw=2.0, solid_joinstyle='round')

    ax.set_xlim(xlim)
    ax.set_ylim(-0.5, 10.5)
    ax.set_yticks([0, 2.5, 5, 7.5, 10])
    ax.set_yticks([1.25, 3.75, 6.25, 8.75], minor=True)
    ax.set_xticks(major_dates)
    ax.set_xticks(minor_dates, minor=True)
    ax.grid(which='major', color='#EBEBEB', lw=1.1)
    ax.grid(which='minor', color='#F4F4F4', lw=0.7)
    ax.set_axisbelow(True)
    for sp in ax.spines.values():
        sp.set_color('#7F7F7F')
        sp.set_linewidth(1.5)
    ax.tick_params(which='minor', length=0)

    ax.text(mdates.date2num(pd.Timestamp('2014-01-01')), 8.82, name,
            ha='center', va='center', fontsize=21.5, color='black')

    if c == 0:
        ax.set_yticklabels(['0.0', '2.5', '5.0', '7.5', '10.0'])
        ax.tick_params(axis='y', which='major', length=4, width=1.3,
                       color='#333333', labelsize=10, labelcolor='#333333', pad=3)
        ax.set_ylabel('% ILI', fontsize=11, labelpad=13)
    else:
        ax.tick_params(axis='y', which='major', length=0, labelleft=False)

    if r == len(rows) - 1:
        ax.set_xticklabels([d.strftime('%Y') + '\u2212' + d.strftime('%m') for d in major_dates])
        ax.tick_params(axis='x', which='major', length=5, width=1.3,
                       color='#333333', labelsize=10.5, labelcolor='#333333', pad=3)
        ax.set_xlabel('CDC Week', fontsize=14, labelpad=4)
    else:
        ax.tick_params(axis='x', which='major', length=0, labelbottom=False)

# cut off tick labels that run past the panel gap / picture edge
fig.add_artist(Rectangle((7.27, 0.17), 0.14, 0.29, transform=fig.dpi_scale_trans,
                         facecolor='white', edgecolor='none', zorder=10))
fig.add_artist(Rectangle((14.46, 0), 0.2, 12.2, transform=fig.dpi_scale_trans,
                         facecolor='black', edgecolor='none', zorder=10))

fig.savefig('out.png', dpi=100, facecolor='black')
